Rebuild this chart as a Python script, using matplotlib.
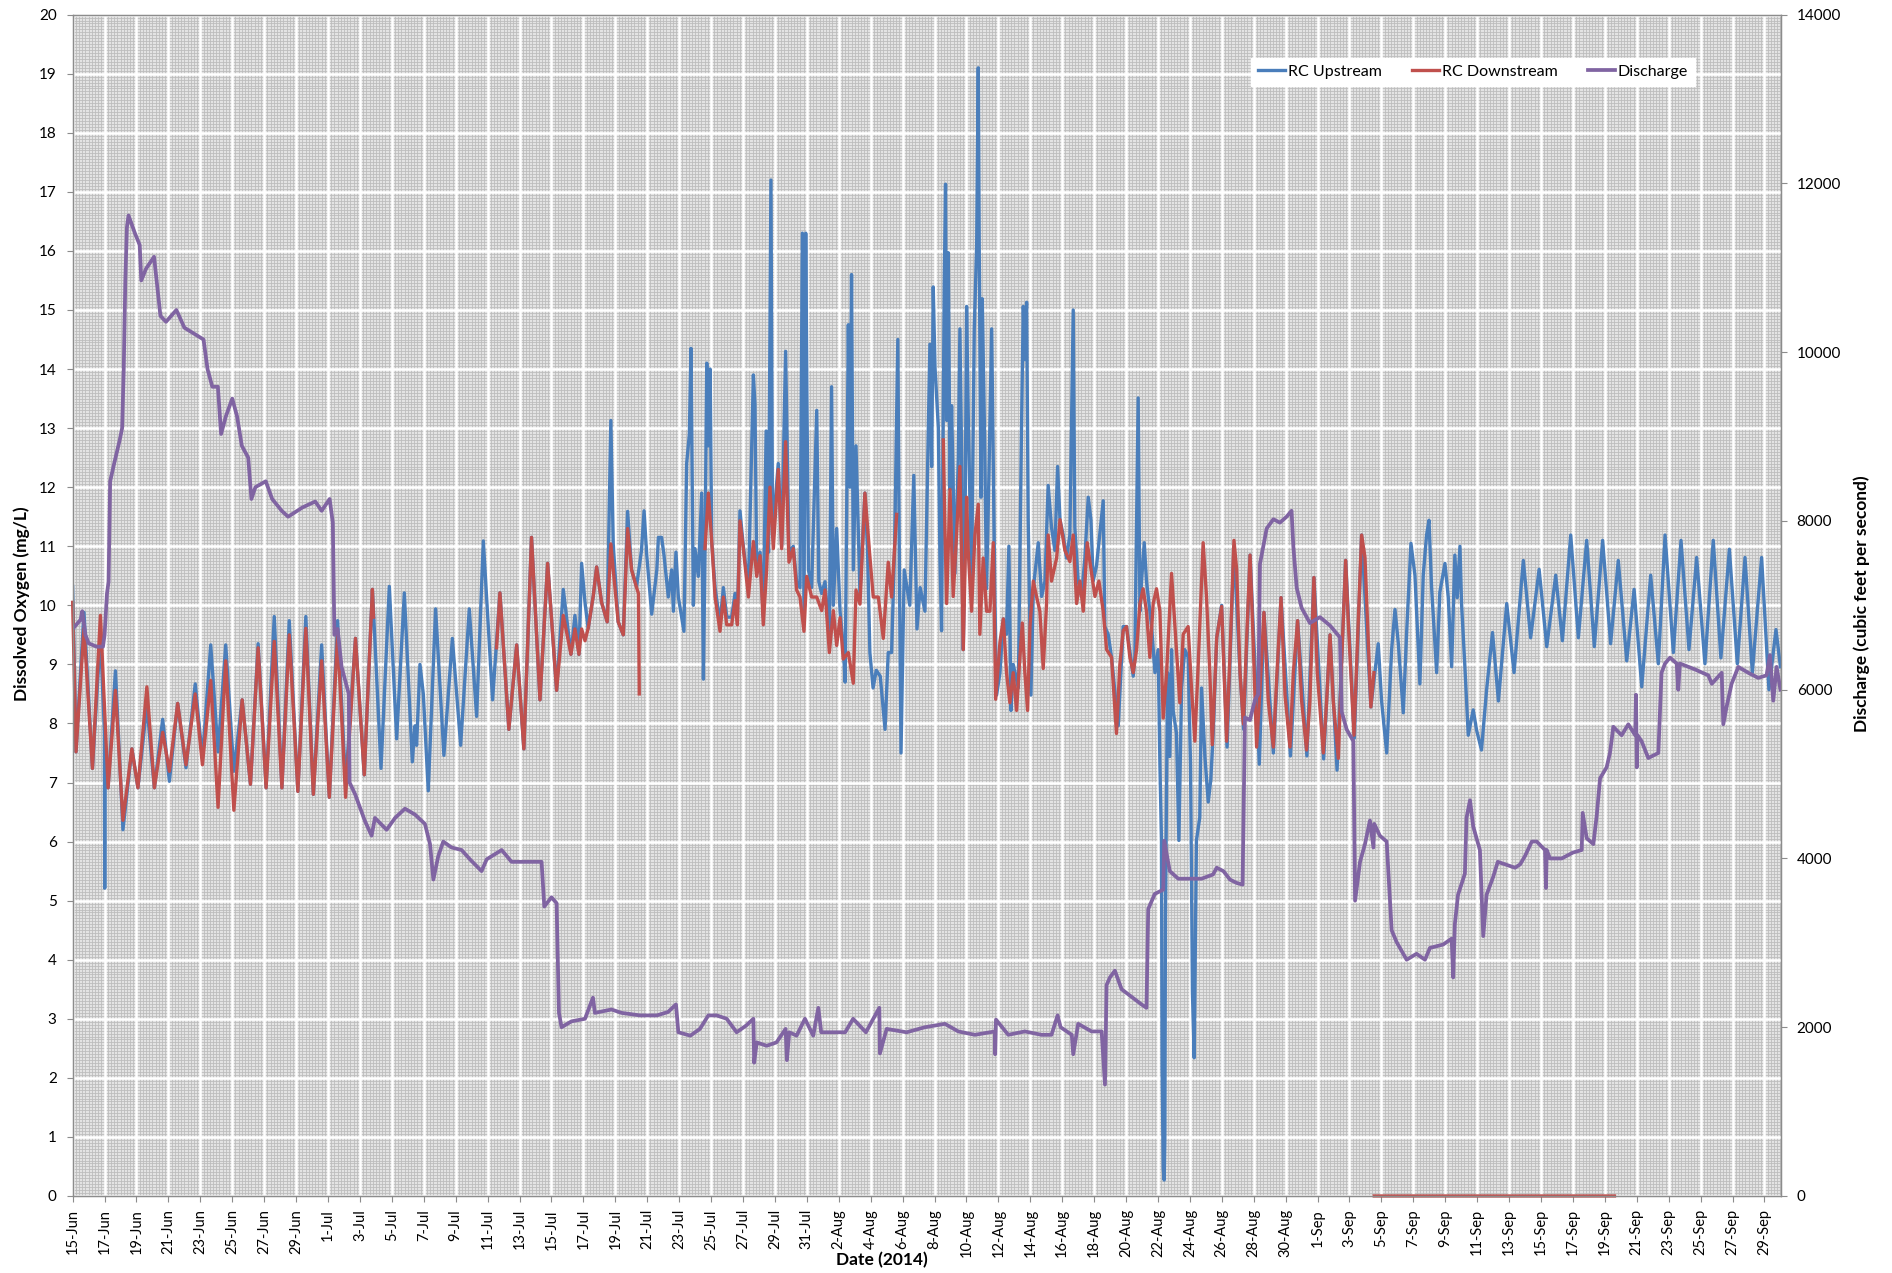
import numpy as np
import matplotlib
matplotlib.use("Agg")
from matplotlib import pyplot as plt
from matplotlib.ticker import MultipleLocator
from datetime import date, timedelta

plt.rcParams['font.family'] = ['Lato', 'DejaVu Sans']

nan = np.nan
start = date(2014, 6, 15)

# (days since 15-Jun 00:00, DO mg/L)
upstream = [
    (0.0, 10.32), (0.21, 7.52), (0.71, 9.88), (1.24, 7.24), (1.74, 9.5), (1.99, 7.85), (2.01, 5.21),
    (2.03, 7.5), (2.22, 6.91), (2.68, 8.89), (3.15, 6.2), (3.71, 7.57), (4.09, 6.91), (4.65, 8.3),
    (5.12, 6.91), (5.64, 8.07), (6.06, 7.02), (6.58, 8.34), (7.1, 7.25), (7.68, 8.67), (8.13, 7.41),
    (8.65, 9.33), (9.11, 7.52), (9.59, 9.33), (10.1, 7.19), (10.62, 8.4), (11.14, 6.97), (11.62, 9.35),
    (12.12, 6.91), (12.63, 9.81), (13.11, 6.91), (13.57, 9.74), (14.11, 6.85), (14.61, 9.81),
    (15.08, 6.8), (15.6, 9.33), (16.08, 6.75), (16.6, 9.74), (17.1, 6.97), (17.72, 9.44), (18.27, 7.13),
    (18.78, 10.27), (18.94, 9.39), (19.32, 7.24), (19.84, 10.32), (20.3, 7.74), (20.78, 10.21),
    (21.28, 7.35), (21.45, 7.96), (21.55, 7.63), (21.76, 9.0), (21.97, 8.5), (22.28, 6.86),
    (22.74, 9.94), (23.26, 7.46), (23.79, 9.44), (24.31, 7.63), (24.85, 9.94), (25.31, 8.12),
    (25.73, 11.09), (26.31, 8.4), (26.77, 10.21), (27.33, 7.9), (27.82, 9.33), (28.27, 7.57),
    (28.75, 11.15), (29.28, 8.4), (29.76, 10.71), (30.32, 8.56), (30.74, 10.27), (31.22, 9.17),
    (31.47, 9.83), (31.72, 9.17), (31.89, 10.71), (32.1, 10.05), (32.3, 9.61), (32.62, 10.16),
    (32.83, 10.65), (33.14, 10.05), (33.49, 9.72), (33.72, 13.13), (33.87, 11.04), (34.18, 9.72),
    (34.5, 9.5), (34.77, 11.59), (35.02, 10.6), (35.33, 10.32), (35.64, 10.93), (35.8, 11.6),
    (35.97, 10.85), (36.28, 9.85), (36.6, 10.6), (36.7, 11.15), (36.9, 11.15), (37.05, 10.85),
    (37.32, 10.14), (37.53, 10.6), (37.64, 9.9), (37.8, 10.9), (37.95, 10.14), (38.3, 9.56),
    (38.47, 12.4), (38.64, 12.9), (38.74, 14.35), (38.89, 10.0), (38.99, 10.96), (39.2, 10.49),
    (39.41, 11.9), (39.52, 8.75), (39.62, 10.96), (39.73, 14.1), (39.83, 12.7), (39.94, 14.0),
    (40.04, 11.08), (40.25, 10.3), (40.56, 9.7), (40.77, 10.3), (40.98, 9.8), (41.29, 9.8),
    (41.5, 10.2), (41.65, 9.8), (41.81, 11.6), (42.02, 11.0), (42.34, 10.3), (42.65, 13.9),
    (42.75, 13.4), (42.86, 10.6), (43.07, 10.9), (43.27, 9.8), (43.45, 12.95), (43.6, 10.9),
    (43.75, 17.2), (43.85, 11.2), (44.21, 12.4), (44.42, 11.0), (44.67, 14.3), (44.88, 10.9),
    (45.15, 11.0), (45.36, 10.4), (45.57, 10.3), (45.72, 16.3), (45.82, 9.8), (45.93, 16.3),
    (46.0, 13.7), (46.1, 10.6), (46.3, 10.3), (46.62, 13.3), (46.75, 10.4), (46.93, 10.2),
    (47.14, 10.4), (47.41, 9.4), (47.55, 13.7), (47.66, 10.0), (47.87, 11.3), (48.08, 9.9),
    (48.28, 9.3), (48.4, 8.7), (48.6, 14.75), (48.7, 12.0), (48.8, 15.6), (48.91, 10.6),
    (49.08, 12.7), (49.33, 10.2), (49.64, 11.9), (49.8, 10.96), (49.95, 9.2), (50.15, 8.6),
    (50.35, 8.9), (50.6, 8.8), (50.9, 7.9), (51.1, 9.2), (51.31, 9.2), (51.5, 11.0), (51.7, 14.5),
    (51.8, 10.6), (51.9, 7.5), (52.1, 10.6), (52.45, 10.0), (52.7, 12.2), (52.9, 9.6), (53.1, 10.3),
    (53.4, 9.9), (53.61, 13.0), (53.71, 14.42), (53.82, 12.35), (53.92, 15.39), (54.03, 14.03),
    (54.24, 13.0), (54.34, 10.8), (54.44, 9.57), (54.61, 15.45), (54.69, 17.13), (54.76, 13.13),
    (54.86, 15.97), (54.97, 11.96), (55.07, 13.38), (55.28, 10.54), (55.49, 12.48), (55.59, 14.68),
    (55.7, 12.48), (55.8, 9.25), (55.91, 11.19), (56.01, 15.06), (56.11, 13.26), (56.32, 10.41),
    (56.49, 14.68), (56.64, 16.1), (56.74, 19.1), (56.8, 16.1), (56.91, 11.83), (56.99, 15.19),
    (57.12, 13.13), (57.26, 10.28), (57.41, 12.22), (57.58, 14.68), (57.68, 12.48), (57.78, 10.15),
    (57.89, 8.48), (58.1, 8.86), (58.31, 9.77), (58.51, 9.51), (58.66, 11.0), (58.79, 8.22),
    (58.93, 9.0), (59.25, 8.6), (59.45, 13.0), (59.56, 15.06), (59.66, 14.16), (59.77, 15.13),
    (59.87, 11.45), (60.04, 8.48), (60.19, 10.28), (60.5, 11.06), (60.71, 10.15), (60.92, 10.41),
    (61.12, 12.03), (61.33, 11.32), (61.54, 10.93), (61.71, 12.35), (61.86, 11.45), (62.06, 11.19),
    (62.27, 10.8), (62.48, 11.19), (62.69, 15.0), (62.79, 11.32), (63.0, 10.41), (63.21, 10.15),
    (63.42, 10.8), (63.63, 11.83), (63.8, 11.45), (63.94, 10.41), (64.15, 10.67), (64.57, 11.77),
    (64.67, 9.64), (64.88, 9.51), (65.09, 9.12), (65.51, 7.96), (65.82, 9.64), (66.03, 9.64),
    (66.45, 8.8), (66.55, 9.12), (66.76, 13.51), (66.87, 9.9), (66.97, 10.41), (67.14, 11.06),
    (67.28, 10.41), (67.6, 9.64), (67.81, 8.86), (68.01, 9.25), (68.12, 7.31), (68.22, 6.02),
    (68.26, 2.14), (68.33, 0.46), (68.39, 0.27), (68.43, 0.98), (68.47, 4.73), (68.6, 8.86),
    (68.74, 7.44), (68.85, 9.25), (68.95, 8.22), (69.16, 7.83), (69.31, 6.02), (69.48, 8.6),
    (69.68, 9.25), (69.89, 9.12), (70.04, 7.31), (70.16, 3.44), (70.27, 2.34), (70.41, 6.02),
    (70.62, 6.41), (70.73, 8.6), (70.94, 7.44), (71.15, 6.67), (71.31, 7.05), (71.46, 7.83),
    (71.68, 9.45), (71.99, 10.0), (72.33, 7.6), (72.76, 11.0), (73.14, 8.86), (73.37, 7.9),
    (73.77, 10.85), (74.35, 7.31), (74.64, 9.88), (75.23, 7.5), (75.71, 10.13), (76.3, 7.45),
    (76.75, 9.74), (77.33, 7.45), (77.77, 10.47), (78.38, 7.4), (78.78, 9.5), (79.22, 7.21),
    (79.76, 10.76), (80.3, 7.75), (80.76, 11.19), (81.34, 8.28), (81.8, 9.35), (82.01, 8.38),
    (82.33, 7.5), (82.64, 9.25), (82.85, 9.93), (83.06, 9.35), (83.37, 8.18), (83.58, 9.54),
    (83.85, 11.05), (84.1, 10.51), (84.41, 8.67), (84.62, 10.51), (84.83, 11.19), (84.98, 11.44),
    (85.14, 10.32), (85.46, 8.86), (85.66, 10.22), (85.98, 10.71), (86.19, 10.13), (86.4, 8.96),
    (86.6, 10.85), (86.75, 10.13), (86.92, 11.0), (87.02, 10.03), (87.23, 8.96), (87.44, 7.8),
    (87.75, 8.23), (87.96, 7.89), (88.27, 7.55), (88.59, 8.57), (88.96, 9.54), (89.33, 8.38),
    (89.85, 10.03), (90.31, 8.86), (90.89, 10.76), (91.35, 9.45), (91.88, 10.61), (92.36, 9.3),
    (92.92, 10.51), (93.34, 9.4), (93.86, 11.19), (94.34, 9.45), (94.86, 11.1), (95.34, 9.3),
    (95.86, 11.1), (96.36, 9.35), (96.84, 10.76), (97.37, 9.06), (97.83, 10.27), (98.31, 8.62),
    (98.87, 10.51), (99.35, 9.01), (99.77, 11.19), (100.29, 9.2), (100.77, 11.1), (101.27, 9.25),
    (101.75, 10.81), (102.27, 9.01), (102.79, 11.1), (103.27, 9.11), (103.8, 10.95), (104.3, 9.01),
    (104.78, 10.81), (105.24, 8.86), (105.82, 10.81), (106.28, 8.57), (106.72, 9.59), (107.0, 8.96),
]

downstream = [
    (0.0, 10.05), (0.21, 7.52), (0.71, 9.61), (1.24, 7.24), (1.74, 9.83), (2.22, 6.91), (2.68, 8.56),
    (3.15, 6.36), (3.71, 7.57), (4.09, 6.91), (4.65, 8.62), (5.12, 6.91), (5.64, 7.85), (6.06, 7.19),
    (6.58, 8.34), (7.1, 7.3), (7.68, 8.5), (8.13, 7.3), (8.65, 8.73), (9.11, 6.58), (9.59, 9.06),
    (10.1, 6.53), (10.62, 8.4), (11.14, 6.97), (11.62, 9.28), (12.12, 6.91), (12.63, 9.39),
    (13.11, 6.91), (13.57, 9.5), (14.11, 6.85), (14.61, 9.61), (15.08, 6.8), (15.6, 9.06),
    (16.08, 6.75), (16.6, 9.5), (17.1, 6.75), (17.72, 9.44), (18.27, 7.13), (18.78, 10.27),
    (18.85, 9.8), (nan, nan),
    (26.56, 9.28), (26.77, 10.21), (27.33, 7.9), (27.82, 9.33), (28.27, 7.57), (28.75, 11.15),
    (29.28, 8.4), (29.76, 10.71), (30.32, 8.56), (30.74, 9.83), (31.22, 9.17), (31.47, 9.6),
    (31.72, 9.17), (31.89, 9.6), (32.1, 9.4), (32.3, 9.61), (32.62, 10.16), (32.83, 10.65),
    (33.14, 10.05), (33.49, 9.72), (33.72, 11.04), (33.87, 10.6), (34.18, 9.72), (34.5, 9.5),
    (34.77, 11.3), (35.02, 10.6), (35.33, 10.3), (35.45, 10.2), (35.5, 8.5), (nan, nan),
    (39.62, 10.96), (39.83, 11.9), (40.04, 11.08), (40.25, 10.14), (40.56, 9.56), (40.77, 10.14),
    (40.98, 9.67), (41.29, 9.67), (41.5, 10.08), (41.65, 9.67), (41.81, 11.43), (42.02, 10.96),
    (42.34, 10.14), (42.65, 11.08), (42.86, 10.49), (43.07, 10.84), (43.27, 9.67), (43.48, 10.6),
    (43.69, 12.0), (43.9, 10.96), (44.21, 12.3), (44.42, 10.96), (44.67, 12.77), (44.88, 10.73),
    (45.15, 10.96), (45.36, 10.26), (45.57, 10.14), (45.82, 9.56), (45.99, 10.49), (46.3, 10.14),
    (46.62, 10.14), (46.93, 9.91), (47.14, 10.26), (47.41, 9.2), (47.66, 9.91), (47.87, 9.32),
    (48.08, 9.79), (48.28, 9.09), (48.6, 9.2), (48.91, 8.68), (49.08, 10.26), (49.33, 10.02),
    (49.64, 11.9), (49.91, 10.96), (50.16, 10.14), (50.48, 10.14), (50.79, 9.44), (51.1, 10.73),
    (51.31, 10.14), (51.63, 11.54), (nan, nan),
    (54.55, 12.8), (54.65, 11.32), (54.76, 10.03), (54.97, 11.96), (55.17, 10.15), (55.38, 11.19),
    (55.59, 12.35), (55.8, 9.25), (56.01, 11.83), (56.11, 10.93), (56.32, 9.9), (56.53, 11.19),
    (56.74, 11.71), (56.84, 9.51), (57.05, 10.8), (57.26, 9.9), (57.47, 9.9), (57.68, 11.06),
    (57.83, 8.41), (58.1, 9.38), (58.31, 9.77), (58.51, 8.86), (58.72, 8.35), (58.93, 8.86),
    (59.14, 8.22), (59.35, 9.12), (59.5, 9.7), (59.66, 8.86), (59.83, 8.22), (59.98, 9.64),
    (60.19, 10.41), (60.39, 10.15), (60.6, 9.9), (60.81, 8.93), (61.02, 10.03), (61.12, 11.19),
    (61.33, 10.41), (61.65, 10.8), (61.86, 11.45), (62.17, 10.93), (62.48, 10.74), (62.69, 11.19),
    (62.9, 10.03), (63.11, 10.41), (63.32, 9.9), (63.57, 11.06), (63.84, 10.54), (64.05, 10.15),
    (64.3, 10.41), (64.57, 9.9), (64.78, 9.25), (65.09, 9.12), (65.4, 7.83), (65.61, 8.99),
    (65.82, 9.57), (66.03, 9.64), (66.24, 9.12), (66.45, 8.86), (66.66, 9.25), (66.87, 10.03),
    (67.07, 10.28), (67.28, 9.9), (67.49, 9.12), (67.7, 10.03), (67.91, 10.28), (68.12, 9.9),
    (68.33, 8.09), (68.54, 8.86), (68.85, 10.54), (69.16, 9.25), (69.37, 8.35), (69.58, 9.51),
    (69.89, 9.64), (70.1, 8.6), (70.31, 7.7), (70.52, 8.99), (70.83, 11.06), (71.04, 10.15),
    (71.25, 8.86), (71.4, 7.64), (71.68, 9.45), (71.99, 9.98), (72.3, 7.7), (72.51, 9.16),
    (72.76, 11.1), (72.93, 10.61), (73.14, 8.86), (73.35, 7.99), (73.56, 9.45), (73.77, 10.85),
    (73.97, 9.35), (74.18, 7.6), (74.39, 8.57), (74.64, 9.88), (74.91, 8.38), (75.23, 7.6),
    (75.44, 8.77), (75.71, 10.13), (75.96, 8.48), (76.27, 7.6), (76.48, 8.86), (76.75, 9.74),
    (77.0, 8.38), (77.31, 7.55), (77.52, 8.38), (77.77, 10.47), (77.98, 8.86), (78.36, 7.5),
    (78.57, 8.38), (78.78, 9.5), (78.98, 8.38), (79.3, 7.41), (79.51, 9.06), (79.76, 10.76),
    (79.92, 9.74), (80.28, 7.8), (80.55, 9.74), (80.76, 11.19), (80.97, 10.81), (81.18, 9.35),
    (81.34, 8.28), (81.53, 8.86), (nan, nan),
    (81.55, 0.0), (96.6, 0.0),
]

# (days since 15-Jun 00:00, discharge cfs)
discharge = [
    (0.0, 6720), (0.5, 6830), (0.6, 6930), (0.8, 6650), (1.0, 6550), (1.5, 6510), (1.9, 6510),
    (2.0, 6650), (2.15, 7140), (2.25, 7280), (2.35, 8470), (2.6, 8680), (2.95, 8960), (3.1, 9100),
    (3.2, 9800), (3.3, 10850), (3.4, 11480), (3.5, 11620), (3.9, 11410), (4.2, 11270), (4.3, 10850),
    (4.6, 10990), (5.1, 11130), (5.3, 10780), (5.5, 10430), (5.85, 10360), (6.5, 10500),
    (7.0, 10290), (7.6, 10220), (8.2, 10150), (8.45, 9800), (8.75, 9590), (9.1, 9590), (9.3, 9030),
    (9.6, 9240), (10.0, 9450), (10.3, 9240), (10.6, 8890), (11.0, 8750), (11.2, 8260),
    (11.45, 8400), (12.1, 8470), (12.5, 8260), (13.1, 8120), (13.5, 8050), (14.4, 8160),
    (15.2, 8230), (15.6, 8120), (16.1, 8260), (16.3, 7980), (16.4, 6650), (16.6, 6720),
    (16.85, 6270), (17.3, 5950), (17.35, 4900), (17.7, 4760), (18.3, 4450), (18.73, 4270),
    (18.94, 4480), (19.67, 4340), (20.2, 4480), (20.82, 4590), (21.45, 4520), (22.07, 4410),
    (22.39, 4170), (22.6, 3750), (22.91, 4030), (23.22, 4200), (23.74, 4130), (24.37, 4100),
    (24.89, 3990), (25.62, 3850), (25.94, 3990), (26.88, 4100), (27.5, 3960), (28.13, 3960),
    (28.86, 3960), (29.38, 3960), (29.55, 3430), (30.0, 3540), (30.32, 3470), (30.47, 2170),
    (30.63, 2000), (31.26, 2070), (32.1, 2100), (32.6, 2350), (32.72, 2170), (33.76, 2210),
    (34.39, 2170), (35.55, 2140), (36.6, 2140), (37.3, 2180), (37.8, 2270), (37.95, 1940),
    (38.7, 1900), (39.3, 1980), (39.83, 2140), (40.35, 2140), (40.98, 2100), (41.6, 1940),
    (42.2, 2020), (42.65, 2100), (42.7, 1580), (42.86, 1820), (43.48, 1780), (44.1, 1820),
    (44.67, 1980), (44.75, 1610), (44.9, 1940), (45.36, 1900), (45.88, 2100), (46.4, 1900),
    (46.72, 2230), (46.9, 1940), (47.6, 1940), (48.4, 1940), (48.9, 2100), (49.7, 1940),
    (50.54, 2230), (50.58, 1690), (51.0, 1980), (52.25, 1940), (53.4, 2000), (54.65, 2040),
    (55.49, 1950), (56.53, 1910), (57.78, 1950), (57.8, 1680), (57.85, 2090), (58.62, 1910),
    (59.66, 1950), (60.7, 1910), (61.33, 1910), (61.71, 2140), (61.9, 2000), (62.6, 1910),
    (62.69, 1680), (63.0, 2040), (63.84, 1950), (64.47, 1950), (64.68, 1320), (64.78, 2500),
    (64.99, 2590), (65.3, 2670), (65.72, 2450), (66.35, 2360), (66.97, 2270), (67.28, 2230),
    (67.39, 3400), (67.8, 3580), (68.33, 3630), (68.39, 4210), (68.74, 3850), (69.27, 3760),
    (70.1, 3760), (70.73, 3760), (71.45, 3810), (71.68, 3890), (72.1, 3850), (72.51, 3750),
    (72.93, 3710), (73.3, 3690), (73.45, 5670), (73.76, 5640), (74.08, 5880), (74.29, 5950),
    (74.39, 7490), (74.6, 7700), (74.81, 7910), (75.23, 8020), (75.64, 7980), (76.06, 8050),
    (76.37, 8120), (76.48, 7700), (76.69, 7210), (77.0, 6970), (77.52, 6790), (78.15, 6860),
    (78.78, 6760), (79.4, 6620), (79.51, 5740), (79.82, 5530), (80.24, 5390), (80.35, 3500),
    (80.66, 3960), (80.97, 4170), (81.28, 4450), (81.5, 4130), (81.55, 4410), (81.9, 4270),
    (82.33, 4200), (82.64, 3150), (82.95, 3010), (83.58, 2800), (84.2, 2870), (84.73, 2800),
    (85.04, 2940), (85.87, 2980), (86.4, 3050), (86.5, 2590), (86.6, 3220), (86.8, 3570),
    (87.23, 3820), (87.33, 4480), (87.55, 4690), (87.75, 4380), (88.17, 4100), (88.38, 3080),
    (88.59, 3570), (89.0, 3780), (89.29, 3960), (89.75, 3930), (90.37, 3890), (90.69, 3930),
    (91.0, 4030), (91.42, 4200), (91.73, 4200), (92.25, 4100), (92.31, 3650), (92.36, 4100),
    (92.56, 4000), (93.3, 4000), (94.0, 4070), (94.55, 4100), (94.61, 4540), (94.86, 4240),
    (95.28, 4170), (95.49, 4510), (95.7, 4950), (96.11, 5080), (96.32, 5250), (96.53, 5560),
    (97.05, 5460), (97.47, 5590), (97.9, 5460), (97.95, 5940), (98.0, 5080), (98.05, 5460),
    (98.3, 5390), (98.72, 5190), (99.35, 5250), (99.55, 6200), (99.77, 6310), (100.08, 6380),
    (100.5, 6310), (100.6, 6000), (100.7, 6310), (101.65, 6240), (102.48, 6170), (102.7, 6070),
    (103.32, 6200), (103.42, 5590), (103.63, 5800), (103.94, 6070), (104.36, 6270), (104.99, 6200),
    (105.61, 6140), (106.13, 6170), (106.34, 6410), (106.55, 5870), (106.76, 6270), (107.0, 6000),
]

tick_days = np.arange(0, 107, 2)
tick_labels = [f"{(start + timedelta(days=int(d))).day}-{(start + timedelta(days=int(d))).strftime('%b')}"
               for d in tick_days]

up_d, up_v = np.array(upstream).T
dn_d, dn_v = np.array(downstream).T
q_d, q_v = np.array(discharge).T

fig = plt.figure(figsize=(18.92, 12.73), dpi=100)
pos = [0.0384, 0.0605, 0.9028, 0.928]
xmax = 107.02
grey = '#8c8c8c'

# textured plot-area background (fine minor grid)
bg = fig.add_axes(pos, zorder=0)
bg.set_facecolor('#e3e3e3')
bg.set_xlim(0, xmax)
bg.set_ylim(0, 20)
bg.set_xticks(np.arange(0, xmax, 0.2))
bg.set_yticks(np.arange(0, 20.01, 0.05))
bg.grid(True, color='#bdbdbd', lw=0.6)
bg.tick_params(length=0, labelbottom=False, labelleft=False)
for s in bg.spines.values():
    s.set_visible(False)

ax = fig.add_axes(pos, zorder=1)
ax.set_facecolor('none')
l1, = ax.plot(up_d, up_v, color='#4a7ebb', lw=2.4, label='RC Upstream')
l2, = ax.plot(dn_d, dn_v, color='#c0504d', lw=2.4, label='RC Downstream', clip_on=False)
ax.set_xlim(0, xmax)
ax.set_ylim(0, 20)
ax.yaxis.set_major_locator(MultipleLocator(1))
ax.set_xticks(tick_days)
ax.set_xticklabels(tick_labels, rotation=90)
ax.grid(True, which='major', color='white', lw=1.8)
ax.set_axisbelow(True)
ax.tick_params(axis='both', direction='out', length=4.5, width=0.8, color=grey, labelsize=10.5, pad=5)
ax.tick_params(axis='y', labelsize=11, pad=7)
for s in ax.spines.values():
    s.set_color(grey)
    s.set_linewidth(0.9)

ax2 = ax.twinx()
ax2.set_zorder(2)
ax2.patch.set_visible(False)
l3, = ax2.plot(q_d, q_v, color='#8064a2', lw=2.7, label='Discharge')
ax2.set_ylim(0, 14000)
ax2.yaxis.set_major_locator(MultipleLocator(2000))
ax2.tick_params(axis='y', direction='out', length=4.5, width=0.8, color=grey, labelsize=11, pad=7)
for s in ax2.spines.values():
    s.set_color(grey)
    s.set_linewidth(0.9)

fig.text(0.0115, 0.5255, 'Dissolved Oxygen (mg/L)', rotation=90, ha='center', va='center',
         fontsize=12.5, fontweight='bold')
fig.text(0.984, 0.5255, 'Discharge (cubic feet per second)', rotation=90, ha='center', va='center',
         fontsize=12.5, fontweight='bold')
fig.text(0.466, 0.0105, 'Date (2014)', ha='center', va='center', fontsize=12.5, fontweight='bold')

leg = fig.legend([l1, l2, l3], ['RC Upstream', 'RC Downstream', 'Discharge'], loc='center',
                 bbox_to_anchor=(0.7785, 0.9435), ncol=3, fontsize=11.5, frameon=True, fancybox=False,
                 facecolor='white', edgecolor='white', framealpha=1, handlelength=1.7,
                 handletextpad=0.15, columnspacing=1.9, borderpad=0.45)

fig.savefig('out.png', dpi=100)
